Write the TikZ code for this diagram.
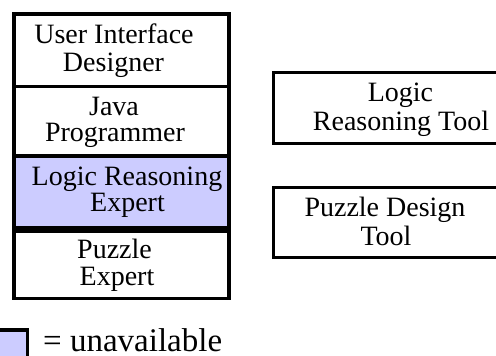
\documentclass[tikz,border=0pt]{standalone}
\usepackage{fontspec}
\setmainfont{Liberation Serif}
\definecolor{unavail}{RGB}{204,204,255}
\tikzset{
  frame/.style={draw=black, line width=3.3pt, inner sep=0pt, outer sep=0pt},
  lbl/.style={anchor=base, inner sep=0pt, font=\fontsize{28}{28}\selectfont},
}
\begin{document}
\begin{tikzpicture}[x=1pt, y=-1pt]
\clip (0,0) rectangle (496,356);
\useasboundingbox (0,0) rectangle (496,356);

% role stack
\fill[unavail] (14,156) rectangle (229,229.5);
\node[frame, minimum width=215pt, minimum height=284.5pt] (stack) at (121.5,156.25) {};
\coordinate (d1l) at (14,86.5);  \coordinate (d1r) at (229,86.5);
\coordinate (d2l) at (14,156);   \coordinate (d2r) at (229,156);
\coordinate (d3l) at (14,229.5); \coordinate (d3r) at (229,229.5);
\draw[line width=3.3pt] (d1l) -- (d1r);
\draw[line width=3.3pt] (d2l) -- (d2r);
\draw[line width=6.7pt] (d3l) -- (d3r);

\node[lbl] (ui1) at (114,43.3) {User Interface};
\node[lbl] (ui2) at (113.5,71.7) {Designer};
\node[lbl] (jp1) at (114,115) {Java};
\node[lbl] (jp2) at (115,141.7) {Programmer};
\node[lbl] (lr1) at (127,185) {Logic Reasoning};
\node[lbl] (lr2) at (127.5,211.7) {Expert};
\node[lbl] (pe1) at (114.5,258) {Puzzle};
\node[lbl] (pe2) at (117,285) {Expert};

% tools
\node[frame, minimum width=240pt, minimum height=70.6pt] (lrt) at (393.3,108) {};
\node[frame, minimum width=240pt, minimum height=70pt] (pdt) at (393.3,222.2) {};
\node[lbl] (lrt1) at (400.5,101.7) {Logic};
\node[lbl] (lrt2) at (401,130) {Reasoning Tool};
\node[lbl] (pdt1) at (385,216.7) {Puzzle Design};
\node[lbl] (pdt2) at (386,245) {Tool};

% legend
\node[frame, fill=unavail, minimum width=30pt, minimum height=40pt] (key) at (12.7,350) {};
\node[anchor=base west, inner sep=0pt, font=\fontsize{33}{33}\selectfont] (keytext) at (43,351) {= unavailable};
\end{tikzpicture}
\end{document}
